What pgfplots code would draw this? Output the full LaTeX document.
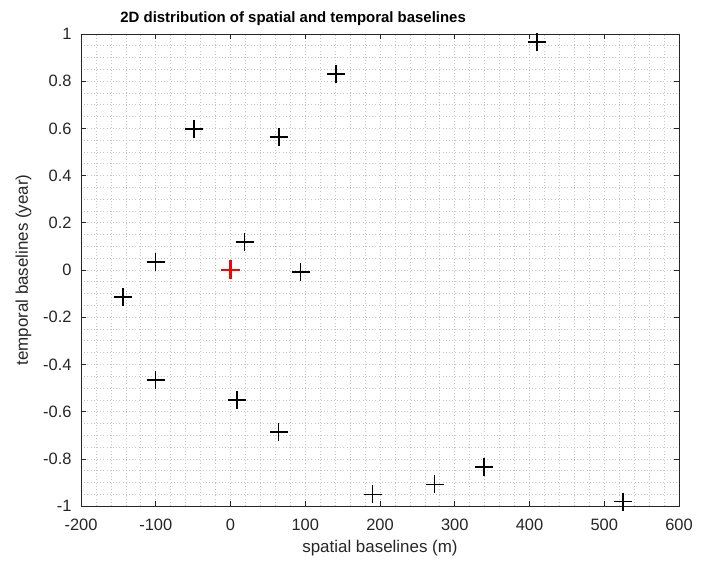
\documentclass[border=0pt]{standalone}
\usepackage{pgfplots}
\pgfplotsset{compat=1.18}
\usepackage{fontspec}
\setmainfont{Liberation Sans}
\begin{document}
\begin{tikzpicture}[x=1bp,y=1bp]
\begin{axis}[
  scale only axis,
  width=598bp, height=472bp,
  xmin=-200, xmax=600, ymin=-1, ymax=1,
  xtick={-200,-100,0,100,200,300,400,500,600},
  xticklabels={-200,-100,0,100,200,300,400,500,600},
  ytick={-1,-0.8,-0.6,-0.4,-0.2,0,0.2,0.4,0.6,0.8,1},
  yticklabels={-1,-0.8,-0.6,-0.4,-0.2,0,0.2,0.4,0.6,0.8,1},
  minor x tick num=4,
  minor y tick num=3,
  grid=both,
  major grid style={gray!45, line width=0.6bp, dash pattern=on 1bp off 2.2bp},
  minor grid style={gray!45, line width=0.6bp, dash pattern=on 1bp off 2.2bp},
  tick align=inside,
  major tick length=5bp,
  minor tick length=0pt,
  axis line style={black!85, line width=0.8bp},
  every tick/.style={black!85, line width=0.6bp},
  ticklabel style={font=\fontsize{16.5}{19}\selectfont, text=black!85},
  xticklabel style={yshift=-10bp},
  yticklabel style={xshift=-6bp},
  xlabel={spatial baselines (m)},
  ylabel={temporal baselines (year)},
  label style={font=\fontsize{17}{20}\selectfont, text=black!85},
  xlabel style={yshift=-2bp},
  ylabel style={yshift=5bp},
  title={2D distribution of spatial and temporal baselines},
  title style={font=\fontsize{15}{18}\selectfont\bfseries, anchor=base west, at={(rel axis cs:0.06,1)}, yshift=6bp},
]
\addplot[only marks, mark=+, mark size=9bp, black, mark options={line width=1.3bp}] coordinates {
  (410,0.966) (141,0.83) (-49,0.597) (65,0.564) (19,0.119) (-100,0.034)
  (94,-0.008) (-144,-0.114) (-100,-0.466) (8.6,-0.551) (64.6,-0.687)
  (190,-0.950) (273,-0.908) (339,-0.835) (525,-0.982)
};
\addplot[only marks, mark=+, mark size=9.5bp, red, mark options={line width=2.8bp}] coordinates {(0,0)};
\end{axis}
\path (current axis.south west) ++(-81bp,-57bp) rectangle ++(707bp,563bp);
\end{tikzpicture}
\end{document}
